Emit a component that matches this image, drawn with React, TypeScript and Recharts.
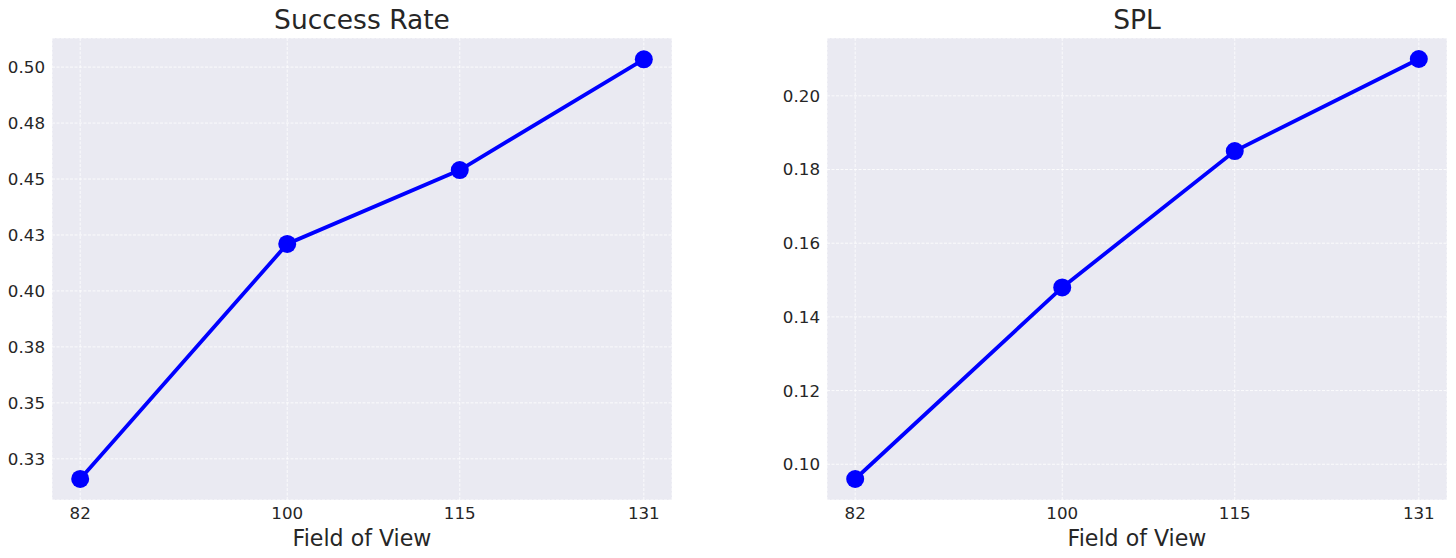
import React from "react";
import { LineChart, Line, XAxis, YAxis, CartesianGrid } from "recharts";

const fovValues = [82, 100, 115, 131];
const successRate = [0.316, 0.421, 0.454, 0.5035];
const splValues = [0.096, 0.148, 0.185, 0.21];

const successTicks = [0.325, 0.35, 0.375, 0.4, 0.425, 0.45, 0.475, 0.5];
const successTickLabels = ["0.33", "0.35", "0.38", "0.40", "0.43", "0.45", "0.48", "0.50"];
const splTicks = [0.1, 0.12, 0.14, 0.16, 0.18, 0.2];
const splTickLabels = ["0.10", "0.12", "0.14", "0.16", "0.18", "0.20"];

const titles = ["Success Rate", "SPL"];
const xLabel = "Field of View";

const FONT = "'DejaVu Sans', sans-serif";
const TEXT = "#262626";

const successData = fovValues.map((x, i) => ({ x, y: successRate[i] }));
const splData = fovValues.map((x, i) => ({ x, y: splValues[i] }));

function Panel(props: {
  data: { x: number; y: number }[];
  ticks: number[];
  labels: string[];
  domain: [number, number];
  width: number;
  yWidth: number;
  right: number;
}) {
  const { data, ticks, labels, domain, width, yWidth, right } = props;
  const fmt = (v: number) => {
    const i = ticks.findIndex((t) => Math.abs(t - v) < 1e-9);
    return i >= 0 ? labels[i] : String(v);
  };
  return (
    <LineChart
      width={width}
      height={558}
      data={data}
      margin={{ top: 38, right, bottom: 0, left: 0 }}
    >
      <CartesianGrid
        fill="#EAEAF2"
        stroke="#FFFFFF"
        strokeWidth={0.8}
        strokeDasharray="3 1.5"
      />
      <XAxis
        dataKey="x"
        type="number"
        domain={[79.55, 133.45]}
        ticks={fovValues}
        allowDataOverflow
        axisLine={false}
        tickLine={false}
        tickSize={0}
        tickMargin={7}
        height={58}
        tick={{ fill: TEXT, fontSize: 16.7, fontFamily: FONT }}
      />
      <YAxis
        type="number"
        domain={domain}
        ticks={ticks}
        allowDataOverflow
        axisLine={false}
        tickLine={false}
        tickSize={0}
        tickMargin={7}
        width={yWidth}
        tickFormatter={fmt}
        tick={{ fill: TEXT, fontSize: 16.7, fontFamily: FONT }}
      />
      <Line
        dataKey="y"
        stroke="#0000FF"
        strokeWidth={3.8}
        dot={{ r: 9, fill: "#0000FF", stroke: "none" }}
        activeDot={false}
        isAnimationActive={false}
      />
    </LineChart>
  );
}

export default function App() {
  return (
    <div
      style={{
        position: "absolute",
        left: 0,
        top: 0,
        width: 1456,
        height: 558,
        background: "#FFFFFF",
        overflow: "hidden",
      }}
    >
      <div style={{ position: "absolute", left: 0, top: 0 }}>
        <Panel
          data={successData}
          ticks={successTicks}
          labels={successTickLabels}
          domain={[0.3066, 0.513]}
          width={728}
          yWidth={52}
          right={56}
        />
      </div>
      <div style={{ position: "absolute", left: 776, top: 0 }}>
        <Panel
          data={splData}
          ticks={splTicks}
          labels={splTickLabels}
          domain={[0.0903, 0.2157]}
          width={680}
          yWidth={51}
          right={9}
        />
      </div>
      <svg
        width={1456}
        height={558}
        style={{ position: "absolute", left: 0, top: 0, pointerEvents: "none" }}
      >
        <text x={362} y={29} textAnchor="middle" fontSize={26.5} fontFamily={FONT} fill={TEXT}>
          {titles[0]}
        </text>
        <text x={1137} y={29} textAnchor="middle" fontSize={26.5} fontFamily={FONT} fill={TEXT}>
          {titles[1]}
        </text>
        <text x={362} y={546} textAnchor="middle" fontSize={22.1} fontFamily={FONT} fill={TEXT}>
          {xLabel}
        </text>
        <text x={1137} y={546} textAnchor="middle" fontSize={22.1} fontFamily={FONT} fill={TEXT}>
          {xLabel}
        </text>
      </svg>
    </div>
  );
}
